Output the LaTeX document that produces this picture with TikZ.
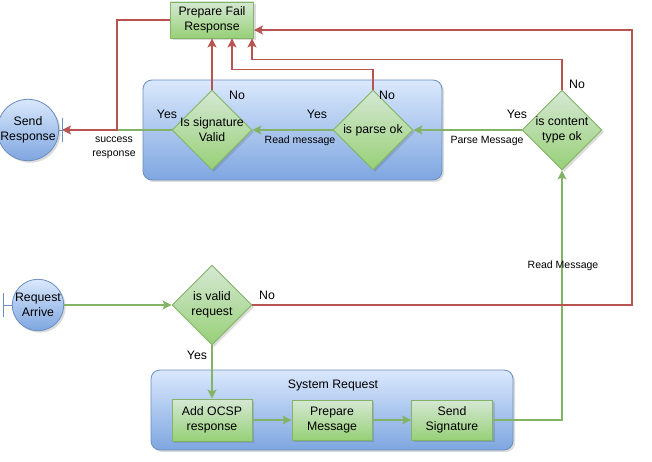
\documentclass[tikz,border=0pt]{standalone}
\usepackage{fontspec}
\setmainfont{Liberation Sans}
\usetikzlibrary{shapes.geometric,arrows.meta,shadows,calc}
\definecolor{gstroke}{HTML}{82B366}
\definecolor{rstroke}{HTML}{B85450}
\definecolor{bstroke}{HTML}{6C8EBF}
\definecolor{gtop}{HTML}{D5E8D4}
\definecolor{gbot}{HTML}{97D077}
\definecolor{btop}{HTML}{DAE8FC}
\definecolor{bbot}{HTML}{7EA6E0}
\tikzset{
  shad/.style={drop shadow={opacity=0.2,shadow xshift=2pt,shadow yshift=-2pt,fill=black!70}},
  container/.style={draw=bstroke,line width=0.8pt,rounded corners=9pt,top color=btop,bottom color=bbot,shad},
  greenbox/.style={draw=gstroke,line width=0.9pt,top color=gtop,bottom color=gbot,align=center,font=\fontsize{12.3}{15}\selectfont,inner sep=0pt,shad},
  decision/.style={diamond,draw=gstroke,line width=0.9pt,top color=gtop,bottom color=gbot,minimum width=80pt,minimum height=80pt,inner sep=0pt,shad},
  bluecirc/.style={circle,draw=bstroke,line width=0.8pt,top color=btop,bottom color=bbot,minimum size=50pt,inner sep=0pt,align=center,font=\fontsize{12.3}{15}\selectfont,shad},
  dtext/.style={align=center,font=\fontsize{12.3}{15}\selectfont,inner sep=0pt},
  gline/.style={draw=gstroke,line width=1.4pt},
  rline/.style={draw=rstroke,line width=1.4pt},
  arr/.style={-{Stealth[length=9pt,width=9pt,inset=2pt]}},
  lbl/.style={font=\fontsize{12.3}{15}\selectfont,inner sep=0pt},
  elbl/.style={font=\fontsize{10.5}{14}\selectfont,inner sep=0pt,align=center},
}
\begin{document}
\begin{tikzpicture}[x=1pt,y=-1pt]
\useasboundingbox (0,0) rectangle (652,462);
% containers
\path[container] (143,80) rectangle (442,180);
\path[container] (151,370) rectangle (513,450);
\node[lbl] (sysreq) at (333,385) {System Request};
% nodes
\node[greenbox,minimum width=83pt,minimum height=36pt] (fail) at (212,20) {Prepare Fail\\Response};
\node[decision] (sig) at (212,130) {};
\node[dtext] (sigt) at (sig) {Is signature\\Valid};
\node[decision] (parse) at (373,130) {};
\node[dtext] (parset) at (parse) {is parse ok};
\node[decision] (content) at (562,130) {};
\node[dtext] (contentt) at (content) {is content\\type ok};
\node[decision] (valid) at (212,305) {};
\node[dtext] (validt) at (valid) {is valid\\request};
\node[bluecirc] (send) at (28,130) {Send\\Response};
\node[bluecirc] (req) at (38,305) {Request\\Arrive};
\node[greenbox,minimum width=80pt,minimum height=42pt] (ocsp) at (212,420) {Add OCSP\\response};
\node[greenbox,minimum width=80pt,minimum height=40pt] (prep) at (332,420) {Prepare\\Message};
\node[greenbox,minimum width=81pt,minimum height=40pt] (ssig) at (452,420) {Send\\Signature};
% end bars
\coordinate (sbar) at (62,130);
\coordinate (rbar) at (3,305);
\draw[bstroke,line width=0.8pt] (send.east) -- (sbar);
\draw[bstroke,line width=0.8pt] ([yshift=-12pt]sbar) -- ([yshift=12pt]sbar);
\draw[bstroke,line width=0.8pt] (rbar) -- (req.west);
\draw[bstroke,line width=0.8pt] ([yshift=-12pt]rbar) -- ([yshift=12pt]rbar);
% coordinates
\coordinate (j) at (117,130);
\coordinate (f2) at ([xshift=40pt]fail.south);
\coordinate (f3) at ([xshift=20pt]fail.south);
\coordinate (c1) at (632,30);
% green connectors
\draw[gline,arr] (req.east) -- (valid.west);
\draw[gline,arr] (valid.south) -- (ocsp.north);
\draw[gline,arr] (ocsp.east) -- (prep.west);
\draw[gline,arr] (prep.east) -- (ssig.west);
\draw[gline,arr] (ssig.east) -| (content.south);
\draw[gline,arr] (content.west) -- (parse.east);
\draw[gline,arr] (parse.west) -- (sig.east);
\draw[gline] (sig.west) -- (j);
% red connectors
\draw[rline,arr] (fail.west) -| (j) -- (sbar);
\draw[rline,arr] (valid.east) -| (c1) -- (fail.east |- c1);
\draw[rline,arr] (content.north) -- ++(0,-30) -| (f2);
\draw[rline,arr] (parse.north) -- ++(0,-20) -| (f3);
\draw[rline,arr] (sig.north) -- (fail.south);
% labels
\node[lbl] (l1) at (167,114) {Yes};
\node[lbl] (l2) at (237,95) {No};
\node[lbl] (l3) at (317,114) {Yes};
\node[lbl] (l4) at (387,95) {No};
\node[lbl] (l5) at (517,114) {Yes};
\node[lbl] (l6) at (577,84) {No};
\node[lbl] (l7) at (267,295) {No};
\node[lbl] (l8) at (197,355) {Yes};
\node[elbl] (e1) at (114,148) {success\\response};
\node[elbl] (e2) at (300,141) {Read message};
\node[elbl] (e3) at (487,141) {Parse Message};
\node[elbl] (e4) at (563,266) {Read Message};
\end{tikzpicture}
\end{document}
